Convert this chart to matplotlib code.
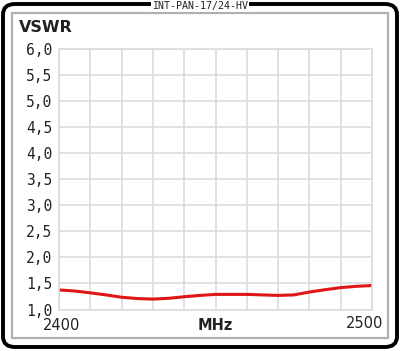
import matplotlib
matplotlib.use('Agg')
import matplotlib.pyplot as plt
from matplotlib.patches import FancyBboxPatch, Rectangle

# data
freq_mhz = [2400, 2405, 2410, 2415, 2420, 2425, 2430, 2435, 2440, 2445, 2450,
            2455, 2460, 2465, 2470, 2475, 2480, 2485, 2490, 2495, 2500]
vswr = [1.375, 1.355, 1.32, 1.28, 1.235, 1.21, 1.20, 1.215, 1.245, 1.27, 1.29,
        1.29, 1.29, 1.28, 1.27, 1.28, 1.335, 1.38, 1.42, 1.445, 1.46]
y_ticks = [1.0, 1.5, 2.0, 2.5, 3.0, 3.5, 4.0, 4.5, 5.0, 5.5, 6.0]
y_labels = ['1,0', '1,5', '2,0', '2,5', '3,0', '3,5', '4,0', '4,5', '5,0', '5,5', '6,0']
title = 'INT-PAN-17/24-HV'

W, H = 400, 351
fig = plt.figure(figsize=(W / 100, H / 100), dpi=100)
fig.patch.set_facecolor('white')

# outer black rounded frame
fig.patches.append(FancyBboxPatch((3 / W, 4 / H), 394 / W, 343 / H,
                                  boxstyle='round,pad=0,rounding_size=0.03',
                                  transform=fig.transFigure, fill=False,
                                  edgecolor='black', linewidth=2.8))
# inner grey frame
fig.patches.append(Rectangle((12 / W, 13 / H), 376 / W, 325 / H,
                             transform=fig.transFigure, fill=False,
                             edgecolor='#b0b0b0', linewidth=1.6))

fig.text(0.5, 1 - 6 / H, title, ha='center', va='center', fontsize=7.2,
         family='DejaVu Sans Mono', color='#222222',
         bbox=dict(facecolor='white', edgecolor='none', pad=0.6))

ax = fig.add_axes([59 / W, (H - 309.5) / H, 313 / W, 260.5 / H])
ax.plot(freq_mhz, vswr, color='#e01515', linewidth=2.2, solid_capstyle='butt')
ax.set_xlim(2400, 2500)
ax.set_ylim(1.0, 6.0)
ax.set_xticks(range(2400, 2501, 10))
ax.set_xticklabels([])
ax.set_yticks(y_ticks)
ax.set_yticklabels(y_labels, family='DejaVu Sans Mono', fontsize=10.5,
                   color='#222222')
ax.tick_params(length=0, pad=5)
ax.grid(True, color='#dcdcdc', linewidth=1.2)
for s in ax.spines.values():
    s.set_color('#dcdcdc')
    s.set_linewidth(1.2)

fig.text(62 / W, 1 - 326 / H, '2400', ha='center', va='center', fontsize=10.5,
         color='#222222')
fig.text(365 / W, 1 - 323 / H, '2500', ha='center', va='center', fontsize=10.5,
         color='#222222')
fig.text(215 / W, 1 - 326 / H, 'MHz', ha='center', va='center', fontsize=10.5,
         fontweight='bold', color='#222222')
fig.text(19 / W, 1 - 27 / H, 'VSWR', ha='left', va='center', fontsize=11.5,
         fontweight='bold', color='#222222')

plt.savefig('out.png', dpi=100)
